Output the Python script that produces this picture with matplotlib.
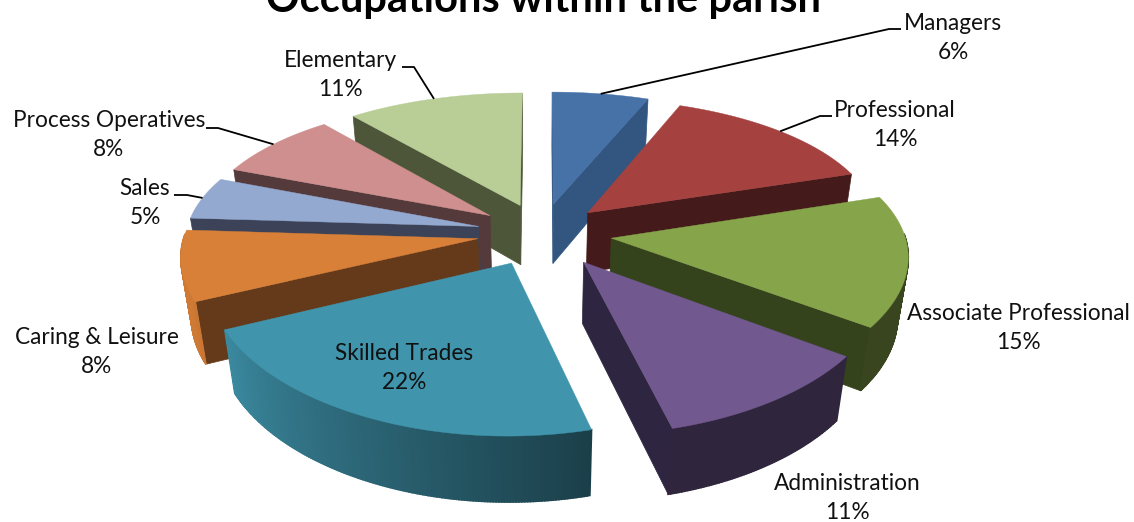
#!/usr/bin/env python3
"""Exploded 3D pie of occupations within the parish."""

import matplotlib
matplotlib.use("Agg")
import matplotlib.pyplot as plt
import numpy as np

CATEGORIES = ["Managers", "Professional", "Associate Professional", "Administration",
              "Skilled Trades", "Caring & Leisure", "Sales", "Process Operatives", "Elementary"]
PERCENTS = [6, 14, 15, 11, 22, 8, 5, 8, 11]
TOP_COLORS = ["#4672A8", "#A5413F", "#86A44A", "#71588F", "#4095AD",
              "#D98038", "#93A9D0", "#CE8F8E", "#B9CD96"]
WALL_COLORS = ["#325680", "#441A1A", "#35431D", "#2E2540", "#1D4E5C",
               "#643A1A", "#3C4358", "#553A3C", "#4E5639"]
EXPLODE = [0.22, 0.22, 0.24, 0.25, 0.235, 0.22, 0.22, 0.22, 0.22]

# projection, in pixels of the 1134x522 picture
CX, CY = 541.5, 233
FX, FY = 293, 137
DEPTH = 62
PERSP_X = 0.11
PERSP_Y = 0.15
PERSP_Z = 0.03

# label centre, and elbow of the leader line (None = no leader)
LABEL_POS = [(953, 38), (895, 125), (1018, 328), (847, 498), (404, 368),
             (97, 352), (145, 203), (109, 135), (340, 75)]
LEADERS = [[(889, 29), (901, 29)], [(820, 116), (832, 116)], None, None, None,
           None, [(187, 195), (174, 195)], [(218, 128), (206, 128)], [(414, 67), (402, 67)]]


def project(x, y, z=0.0):
    wx = 1 + PERSP_X * y - PERSP_Z * z
    wy = 1 + PERSP_Y * y - PERSP_Z * z
    return CX + FX * x / wx, CY - (FY * y + DEPTH * z) / wy


def signed_area(pts):
    x, y = np.array(pts).T
    return 0.5 * np.sum(x * np.roll(y, -1) - np.roll(x, -1) * y)


def arc_points(a0, a1, apex):
    ang = np.radians(np.linspace(a0, a1, max(int(a1 - a0) * 2, 8)))
    return apex[0] + np.sin(ang), apex[1] + np.cos(ang), ang


def draw_slice(ax, a0, a1, explode, top, wall):
    mid = np.radians((a0 + a1) / 2)
    apex = (explode * np.sin(mid), explode * np.cos(mid))
    xs, ys, ang = arc_points(a0, a1, apex)

    # radial walls, only where they face the camera
    for i, sign in ((0, 1), (-1, -1)):
        quad = [project(*apex), project(xs[i], ys[i]),
                project(xs[i], ys[i], -1), project(*apex, -1)]
        if sign * signed_area(quad) < 0:
            ax.fill(*zip(*quad), color=wall, lw=0.5, zorder=ax.next_z())

    # outer wall, shaded facet by facet
    rgb = np.array(matplotlib.colors.to_rgb(top))
    for j in range(len(ang) - 1):
        deg = np.degrees((ang[j] + ang[j + 1]) / 2)
        if not 88 < deg < 272:
            continue
        shade = np.clip(0.42 + (deg - 165) / 80 * 0.5, 0.42, 0.95)
        quad = [project(xs[j], ys[j]), project(xs[j + 1], ys[j + 1]),
                project(xs[j + 1], ys[j + 1], -1), project(xs[j], ys[j], -1)]
        ax.fill(*zip(*quad), color=rgb * shade, lw=1.2, zorder=ax.next_z())

    outline = [project(*apex)] + [project(x, y) for x, y in zip(xs, ys)]
    ax.fill(*zip(*outline), color=top, lw=0.3, zorder=ax.next_z())


def main():
    plt.rcParams["font.family"] = ["Lato", "DejaVu Sans"]
    fig = plt.figure(figsize=(11.34, 5.22), dpi=100)
    ax = fig.add_axes([0, 0, 1, 1])
    ax.set_xlim(0, 1134)
    ax.set_ylim(522, 0)
    ax.axis("off")

    counter = iter(range(1, 100000))
    ax.next_z = lambda: next(counter) * 0.001

    bounds = np.concatenate([[0], np.cumsum(PERCENTS)]) * 3.6
    mids = (bounds[:-1] + bounds[1:]) / 2
    # painter's order: back slices first
    for i in np.argsort(-np.cos(np.radians(mids))):
        draw_slice(ax, bounds[i], bounds[i + 1], EXPLODE[i], TOP_COLORS[i], WALL_COLORS[i])

    for i, name in enumerate(CATEGORIES):
        lx, ly = LABEL_POS[i]
        ax.text(lx, ly, f"{name}\n{PERCENTS[i]}%", ha="center", va="center", fontsize=16.3,
                color="#111111", linespacing=1.47, zorder=900)
        if LEADERS[i]:
            mid = np.radians(mids[i])
            radius = 1 + EXPLODE[i]
            start = project(radius * np.sin(mid), radius * np.cos(mid))
            path = [start] + LEADERS[i]
            ax.plot(*zip(*path), color="black", lw=1.3, zorder=901, solid_capstyle="butt")

    ax.text(543, 12, "Occupations within the parish", ha="center", va="baseline",
            fontsize=30, fontweight="bold", color="black", zorder=900)
    fig.savefig("out.png", dpi=100)


if __name__ == "__main__":
    main()
